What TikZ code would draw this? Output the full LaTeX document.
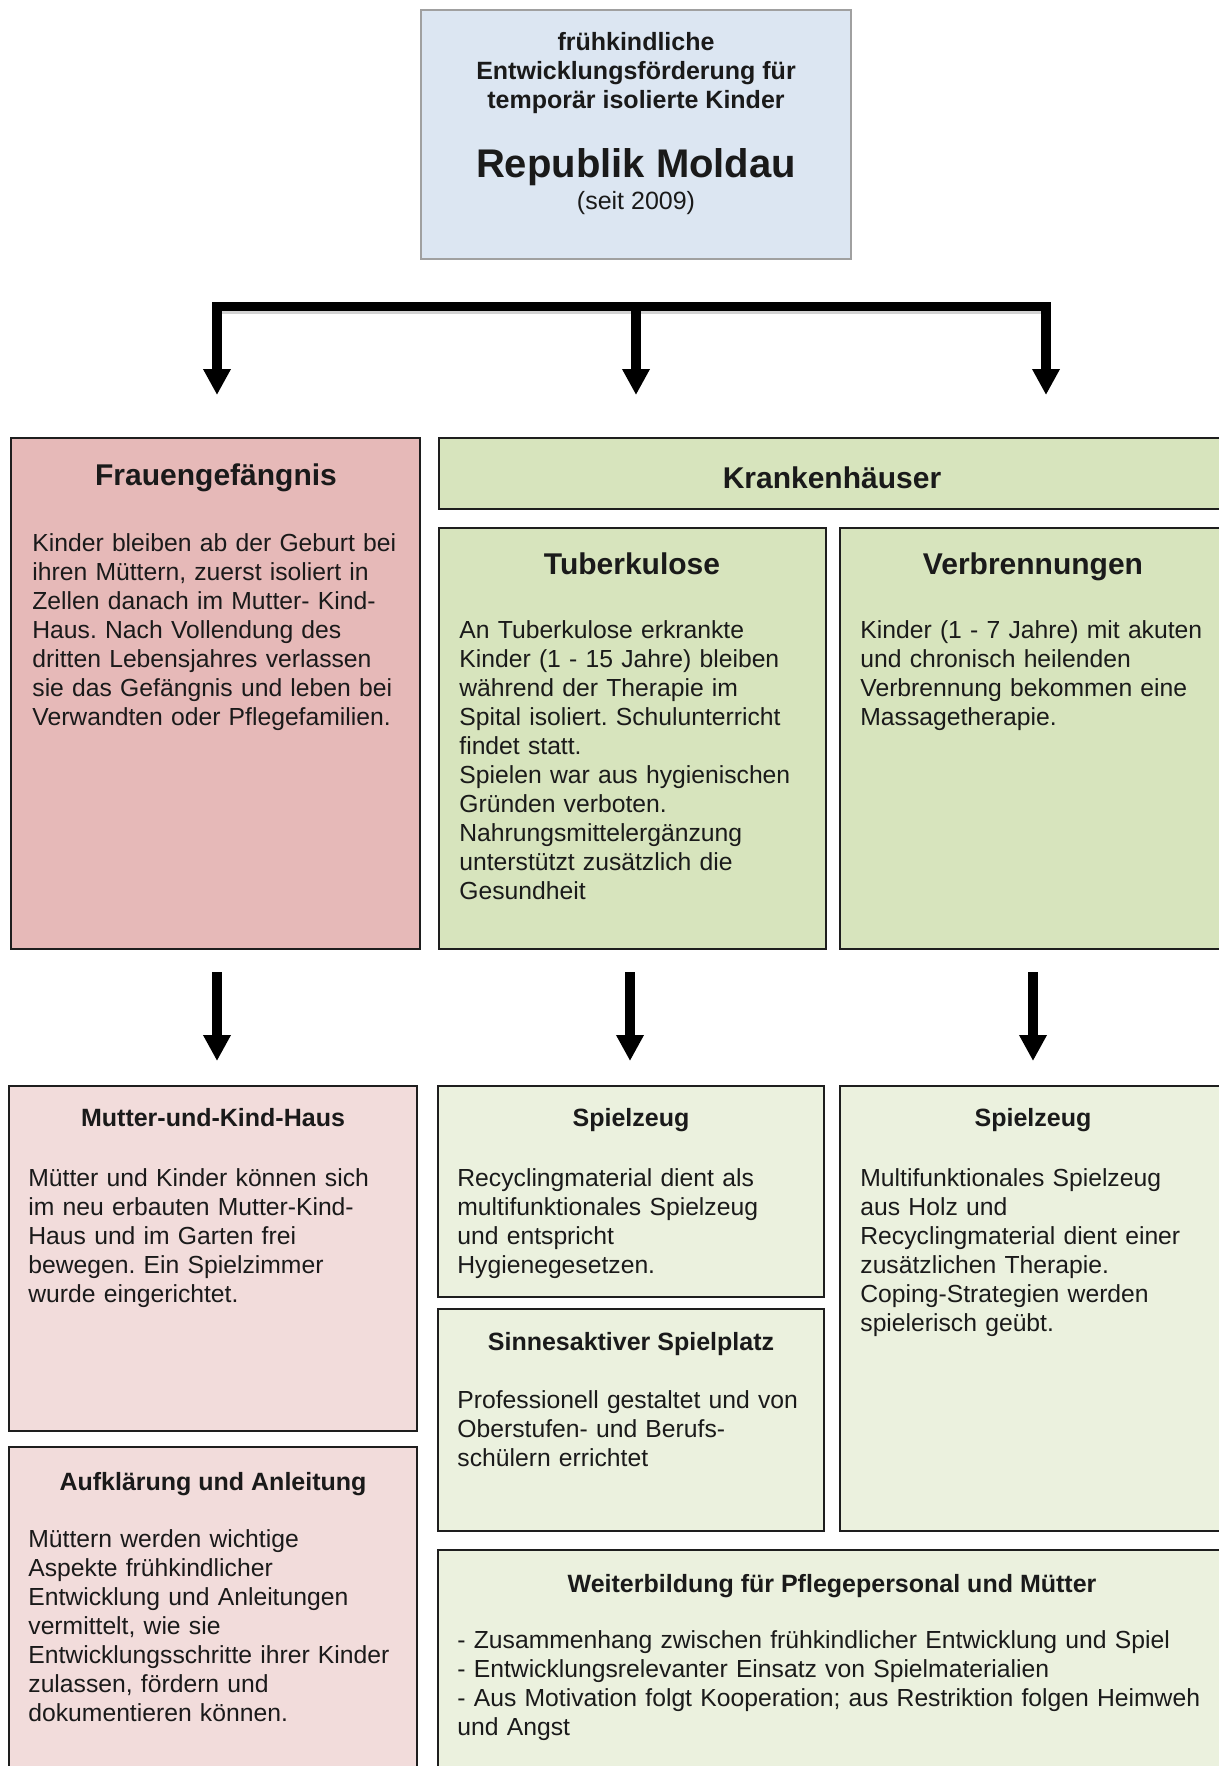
\documentclass[tikz,border=0pt]{standalone}
\usepackage{fontspec}
\setmainfont{Liberation Sans}
\usetikzlibrary{arrows.meta,fit}
\frenchspacing
\definecolor{topblue}{HTML}{DCE6F2}
\definecolor{topline}{HTML}{A0A0A0}
\definecolor{pinkA}{HTML}{E6B9B8}
\definecolor{pinkB}{HTML}{F2DCDB}
\definecolor{greenA}{HTML}{D7E4BD}
\definecolor{greenB}{HTML}{EBF1DE}
\definecolor{boxline}{HTML}{1E1E1E}
\definecolor{txt}{HTML}{1A1A1A}
\begin{document}
\begin{tikzpicture}[x=0.5pt,y=-0.5pt,
  frame/.style={rectangle, draw=boxline, line width=1.2pt, inner sep=0pt},
  pinkbigbox/.style={frame, fill=pinkA},
  pinksmallbox/.style={frame, fill=pinkB},
  greenbigbox/.style={frame, fill=greenA},
  greensmallbox/.style={frame, fill=greenB},
  topbox/.style={rectangle, draw=topline, line width=0.8pt, fill=topblue, inner sep=0pt},
  ttl/.style={font=\fontsize{15}{18}\selectfont\bfseries, anchor=base, inner sep=0pt, text=txt},
  subttl/.style={font=\fontsize{12.5}{14.5}\selectfont\bfseries, anchor=base, inner sep=0pt, text=txt},
  bodytxt/.style={font=\fontsize{12.35}{14.5}\selectfont, anchor=base west, inner sep=0pt, text width=400pt, align=left, text=txt},
  bigarrow/.style={line width=4.8pt, -{Triangle[width=13pt,length=13pt]}},
]
\clip (0,0) rectangle (1219,1766);
\fill[white] (0,0) rectangle (1219,1766);

% top box
\node[topbox, fit={(421,10) (851,259)}] (top) {};
\node[subttl] (top1) at (636,51) {frühkindliche};
\node[subttl] (top2) at (636,80) {Entwicklungsförderung für};
\node[subttl] (top3) at (636,109) {temporär isolierte Kinder};
\node[font=\fontsize{20}{24}\selectfont\bfseries, anchor=base, inner sep=0pt, text=txt] (top4) at (636,177) {Republik Moldau};
\node[font=\fontsize{12.5}{14.5}\selectfont, anchor=base, inner sep=0pt, text=txt] (top5) at (636,209) {(seit 2009)};

% bracket with three arrows
\coordinate (bL) at (217,306);
\coordinate (bM) at (636,306);
\coordinate (bR) at (1046,306);
\coordinate (tL) at (217,395);
\coordinate (tM) at (636,395);
\coordinate (tR) at (1046,395);
\fill[gray!35] (222,310) rectangle (1041,314);
\fill[black] (212,301.5) rectangle (1051,310.5);
\draw[bigarrow] (bL) -- (tL);
\draw[bigarrow] (bM) -- (tM);
\draw[bigarrow] (bR) -- (tR);

% first row
\node[pinkbigbox, fit={(11,438) (420,949)}] (frau) {};
\node[ttl] (frauT) at (216,485) {Frauengefängnis};
\node[bodytxt] (frauB) at (32,551) {Kinder bleiben ab der Geburt bei\\
ihren Müttern, zuerst isoliert in\\
Zellen danach im Mutter- Kind-\\
Haus. Nach Vollendung des\\
dritten Lebensjahres verlassen\\
sie das Gefängnis und leben bei\\
Verwandten oder Pflegefamilien.};

\node[greenbigbox, fit={(439,438) (1245,509)}] (kranken) {};
\node[ttl] (krankenT) at (832,488) {Krankenhäuser};

\node[greenbigbox, fit={(439,528) (826,949)}] (tuber) {};
\node[ttl] (tuberT) at (632,574) {Tuberkulose};
\node[bodytxt] (tuberB) at (459,638) {An Tuberkulose erkrankte\\
Kinder (1 - 15 Jahre) bleiben\\
während der Therapie im\\
Spital isoliert. Schulunterricht\\
findet statt.\\
Spielen war aus hygienischen\\
Gründen verboten.\\
Nahrungsmittelergänzung\\
unterstützt zusätzlich die\\
Gesundheit};

\node[greenbigbox, fit={(840,528) (1245,949)}] (verbr) {};
\node[ttl] (verbrT) at (1033,574) {Verbrennungen};
\node[bodytxt] (verbrB) at (860,638) {Kinder (1 - 7 Jahre) mit akuten\\
und chronisch heilenden\\
Verbrennung bekommen eine\\
Massagetherapie.};

% second arrows
\coordinate (sL) at (217,972);
\coordinate (sM) at (630,972);
\coordinate (sR) at (1033,972);
\coordinate (eL) at (217,1061);
\coordinate (eM) at (630,1061);
\coordinate (eR) at (1033,1061);
\draw[bigarrow] (sL) -- (eL);
\draw[bigarrow] (sM) -- (eM);
\draw[bigarrow] (sR) -- (eR);

% second row
\node[pinksmallbox, fit={(9,1086) (417,1431)}] (mutter) {};
\node[subttl] (mutterT) at (213,1126) {Mutter-und-Kind-Haus};
\node[bodytxt] (mutterB) at (28,1186) {Mütter und Kinder können sich\\
im neu erbauten Mutter-Kind-\\
Haus und im Garten frei\\
bewegen. Ein Spielzimmer\\
wurde eingerichtet.};

\node[pinksmallbox, fit={(9,1447) (417,1790)}] (aufkl) {};
\node[subttl] (aufklT) at (213,1490) {Aufklärung und Anleitung};
\node[bodytxt] (aufklB) at (28,1547) {Müttern werden wichtige\\
Aspekte frühkindlicher\\
Entwicklung und Anleitungen\\
vermittelt, wie sie\\
Entwicklungsschritte ihrer Kinder\\
zulassen, fördern und\\
dokumentieren können.};

\node[greensmallbox, fit={(438,1086) (824,1297)}] (spiel1) {};
\node[subttl] (spiel1T) at (631,1126) {Spielzeug};
\node[bodytxt] (spiel1B) at (457,1186) {Recyclingmaterial dient als\\
multifunktionales Spielzeug\\
und entspricht\\
Hygienegesetzen.};

\node[greensmallbox, fit={(438,1309) (824,1531)}] (sinn) {};
\node[subttl] (sinnT) at (631,1350) {Sinnesaktiver Spielplatz};
\node[bodytxt] (sinnB) at (457,1408) {Professionell gestaltet und von\\
Oberstufen- und Berufs-\\
schülern errichtet};

\node[greensmallbox, fit={(840,1086) (1245,1531)}] (spiel2) {};
\node[subttl] (spiel2T) at (1033,1126) {Spielzeug};
\node[bodytxt] (spiel2B) at (860,1186) {Multifunktionales Spielzeug\\
aus Holz und\\
Recyclingmaterial dient einer\\
zusätzlichen Therapie.\\
Coping-Strategien werden\\
spielerisch geübt.};

\node[greensmallbox, fit={(438,1550) (1245,1790)}] (weiter) {};
\node[subttl] (weiterT) at (832,1592) {Weiterbildung für Pflegepersonal und Mütter};
\node[bodytxt] (weiterB) at (457,1648) {- Zusammenhang zwischen frühkindlicher Entwicklung und Spiel\\
- Entwicklungsrelevanter Einsatz von Spielmaterialien\\
- Aus Motivation folgt Kooperation; aus Restriktion folgen Heimweh\\
und Angst};
\end{tikzpicture}
\end{document}
